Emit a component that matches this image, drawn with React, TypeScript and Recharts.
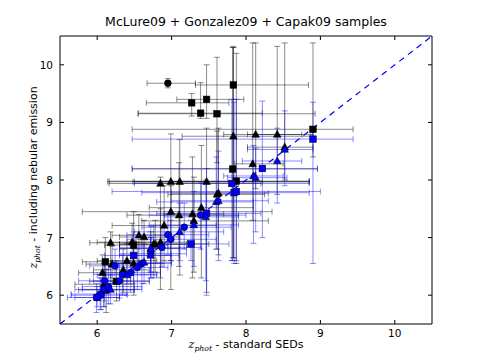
import { ErrorBar, ReferenceLine, Scatter, ScatterChart, XAxis, YAxis } from 'recharts'

// [x, y, xLow, xHigh, yLow, yHigh]
type Row = [number, number, number, number, number, number]

const X_TICKS = [6, 7, 8, 9, 10]
const Y_TICKS = [6, 7, 8, 9, 10]

const blackCircles: Row[] = [
	[6.95, 9.68, 6.67, 7.32, 9.6, 9.76],
]

const blackSquares: Row[] = [
	[7.83, 9.65, 7.32, 8.84, 6.65, 10.32],
	[7.27, 9.34, 6.66, 7.77, 9.11, 9.5],
	[7.47, 9.4, 7.07, 7.97, 9.07, 10.0],
	[7.39, 9.16, 6.55, 8.22, 9.07, 9.69],
	[7.61, 9.15, 6.55, 8.93, 8.3, 10.13],
	[8.9, 8.88, 6.47, 9.44, 8.4, 10.38],
	[7.82, 8.19, 6.47, 8.96, 6.6, 10.3],
	[7.87, 7.98, 6.16, 8.85, 6.55, 10.2],
	[6.49, 6.87, 6.1, 6.95, 6.4, 7.45],
	[6.11, 6.58, 5.8, 6.55, 6.2, 7.0],
	[6.26, 6.24, 5.9, 6.7, 5.9, 6.6],
	[6.12, 6.09, 5.75, 6.5, 5.7, 6.45],
]

const blackTriangles: Row[] = [
	[7.83, 8.76, 7.14, 8.87, 6.65, 10.3],
	[8.13, 8.79, 7.7, 8.75, 7.85, 10.38],
	[8.42, 8.79, 8.02, 8.9, 7.75, 10.32],
	[8.52, 8.57, 8.02, 8.9, 8.0, 10.38],
	[8.09, 8.28, 7.85, 8.5, 7.3, 10.38],
	[6.85, 7.94, 6.16, 8.2, 6.1, 8.05],
	[6.99, 7.97, 6.14, 8.85, 6.6, 8.8],
	[7.11, 7.97, 6.5, 8.85, 6.35, 8.7],
	[7.47, 7.97, 6.48, 8.22, 6.05, 8.9],
	[7.61, 7.75, 6.95, 8.25, 6.8, 8.85],
	[7.63, 7.77, 7.0, 8.3, 6.7, 8.9],
	[7.4, 7.52, 6.7, 8.1, 6.3, 8.6],
	[6.99, 7.45, 5.8, 8.35, 6.1, 7.9],
	[7.1, 7.39, 6.4, 7.9, 6.5, 8.3],
	[7.28, 7.41, 6.9, 7.7, 6.3, 8.4],
	[7.3, 7.29, 6.6, 8.3, 6.4, 8.05],
	[6.9, 7.21, 6.2, 7.6, 6.6, 7.9],
	[6.18, 6.91, 5.9, 6.6, 6.3, 7.1],
	[6.47, 6.92, 6.0, 6.8, 6.4, 7.25],
	[6.56, 7.04, 6.2, 7.0, 6.5, 7.4],
	[6.63, 7.01, 6.3, 7.1, 6.6, 7.3],
	[6.78, 6.88, 6.3, 7.2, 6.4, 7.3],
	[6.85, 6.92, 6.4, 7.3, 6.3, 7.5],
	[6.76, 6.89, 6.3, 7.5, 6.3, 7.2],
	[6.72, 6.81, 6.3, 7.1, 6.4, 7.1],
	[6.4, 6.6, 6.0, 6.8, 6.2, 6.9],
	[6.49, 6.55, 6.1, 6.9, 6.0, 6.95],
	[6.35, 6.44, 5.95, 6.7, 6.05, 6.8],
	[6.07, 6.39, 5.75, 6.45, 6.05, 6.7],
	[6.09, 6.19, 5.7, 6.5, 5.8, 6.55],
	[6.2, 6.54, 5.85, 6.6, 6.2, 6.85],
]

const blueSquares: Row[] = [
	[8.9, 8.71, 6.47, 9.44, 6.55, 9.35],
	[8.22, 8.2, 6.47, 8.96, 7.0, 9.37],
	[7.81, 7.94, 6.5, 8.85, 6.6, 9.4],
	[7.84, 7.78, 6.6, 8.85, 6.55, 9.35],
	[7.87, 7.8, 6.2, 9.0, 6.6, 9.4],
	[7.47, 7.42, 6.8, 8.2, 6.0, 8.2],
	[7.26, 6.89, 6.9, 7.77, 6.6, 7.3],
	[6.49, 6.69, 6.1, 7.0, 6.2, 7.1],
	[6.0, 5.96, 5.7, 6.3, 5.8, 6.15],
]

const blueTriangles: Row[] = [
	[8.52, 8.53, 8.02, 8.9, 7.9, 9.2],
	[8.42, 8.33, 7.95, 8.75, 7.6, 8.9],
	[8.1, 8.07, 7.7, 8.5, 6.9, 8.6],
	[8.13, 8.04, 7.75, 8.55, 7.1, 8.55],
	[7.6, 7.62, 6.8, 8.1, 6.8, 8.4],
	[7.63, 7.64, 7.0, 8.3, 6.6, 8.5],
	[7.46, 7.36, 6.9, 7.9, 6.25, 8.0],
	[7.3, 7.22, 6.7, 7.9, 6.5, 7.8],
	[7.11, 7.1, 6.5, 7.7, 6.6, 7.6],
	[6.72, 6.81, 6.3, 7.2, 6.3, 7.2],
	[6.72, 6.69, 6.3, 7.1, 6.3, 7.0],
	[6.63, 6.57, 6.2, 7.0, 6.2, 6.9],
	[6.18, 6.1, 5.8, 6.6, 5.85, 6.35],
	[6.4, 6.35, 6.0, 6.8, 6.0, 6.6],
]

const blueCircles: Row[] = [
	[7.39, 7.39, 6.7, 8.0, 6.8, 7.95],
	[7.17, 7.18, 6.6, 7.8, 6.8, 7.6],
	[6.95, 7.05, 6.4, 7.5, 6.7, 7.4],
	[6.99, 6.97, 6.4, 7.6, 6.6, 7.3],
	[6.87, 6.83, 6.3, 7.4, 6.5, 7.2],
	[6.72, 6.72, 6.3, 7.2, 6.4, 7.0],
	[6.24, 6.51, 5.9, 6.6, 6.2, 6.8],
	[6.34, 6.36, 5.95, 6.8, 6.0, 6.7],
	[6.45, 6.39, 6.1, 6.85, 6.05, 6.7],
	[6.54, 6.48, 6.15, 6.95, 6.1, 6.8],
	[6.6, 6.55, 6.2, 7.0, 6.2, 6.85],
	[6.09, 6.1, 5.7, 6.5, 5.8, 6.4],
	[6.04, 6.02, 5.65, 6.4, 5.75, 6.3],
	[5.99, 5.96, 5.6, 6.3, 5.7, 6.2],
	[6.15, 6.15, 5.8, 6.6, 5.85, 6.45],
	[6.3, 6.25, 5.95, 6.7, 5.95, 6.55],
	[6.1, 6.25, 5.75, 6.45, 5.9, 6.55],
	[6.05, 6.0, 5.65, 6.4, 5.75, 6.3],
]

const PLOT_W = 372
const PLOT_H = 288
const FONT = '"DejaVu Sans", sans-serif'

const toPoints = (rows: Row[]) =>
	rows.map(([x, y, x0, x1, y0, y1]) => ({
		x,
		y,
		ex: [x - x0, x1 - x],
		ey: [y - y0, y1 - y],
	}))

const SquareMark = (p: any) => (
	<rect x={p.cx - 3.3} y={p.cy - 3.3} width={6.6} height={6.6} fill={p.fill} stroke="#000" strokeWidth={0.5} />
)
const CircleMark = (p: any) => <circle cx={p.cx} cy={p.cy} r={3.4} fill={p.fill} stroke="#000" strokeWidth={0.5} />
const TriangleMark = (p: any) => (
	<polygon
		points={`${p.cx},${p.cy - 4.2} ${p.cx - 3.8},${p.cy + 2.8} ${p.cx + 3.8},${p.cy + 2.8}`}
		fill={p.fill}
		stroke="#000"
		strokeWidth={0.5}
	/>
)

const XTick = ({ x, y, payload }: any) => (
	<g>
		<line x1={x} y1={y} x2={x} y2={y - 4} stroke="#000" />
		<line x1={x} y1={y - PLOT_H} x2={x} y2={y - PLOT_H + 4} stroke="#000" />
		<text x={x} y={y + 13} textAnchor="middle" fontSize={10.5} fontFamily={FONT} fill="#000">
			{payload.value}
		</text>
	</g>
)

const YTick = ({ x, y, payload }: any) => (
	<g>
		<line x1={x} y1={y} x2={x + 4} y2={y} stroke="#000" />
		<line x1={x + PLOT_W} y1={y} x2={x + PLOT_W - 4} y2={y} stroke="#000" />
		<text x={x - 7} y={y + 4} textAnchor="end" fontSize={10.5} fontFamily={FONT} fill="#000">
			{payload.value}
		</text>
	</g>
)

const series = [
	{ name: 'blackCircles', rows: blackCircles, fill: '#000', err: 'rgba(0,0,0,0.45)', shape: CircleMark },
	{ name: 'blackSquares', rows: blackSquares, fill: '#000', err: 'rgba(0,0,0,0.45)', shape: SquareMark },
	{ name: 'blackTriangles', rows: blackTriangles, fill: '#000', err: 'rgba(0,0,0,0.45)', shape: TriangleMark },
	{ name: 'blueCircles', rows: blueCircles, fill: '#0000ff', err: 'rgba(0,0,255,0.45)', shape: CircleMark },
	{ name: 'blueSquares', rows: blueSquares, fill: '#0000ff', err: 'rgba(0,0,255,0.45)', shape: SquareMark },
	{ name: 'blueTriangles', rows: blueTriangles, fill: '#0000ff', err: 'rgba(0,0,255,0.45)', shape: TriangleMark },
]

const Zphot = () => (
	<span style={{ fontFamily: '"DejaVu Serif", serif', fontStyle: 'italic' }}>
		z<sub style={{ fontSize: '0.7em', lineHeight: 0 }}>phot</sub>
	</span>
)

export default function App() {
	return (
		<div style={{ position: 'absolute', left: 0, top: 0, width: 480, height: 360, background: '#fff', fontFamily: FONT }}>
			<ScatterChart width={480} height={360} margin={{ top: 36, right: 48, bottom: 0, left: 0 }}>
				<XAxis
					type="number"
					dataKey="x"
					domain={[5.5, 10.5]}
					ticks={X_TICKS}
					allowDataOverflow
					height={36}
					tickSize={0}
					tickMargin={0}
					tick={XTick}
					axisLine={{ stroke: '#000' }}
				/>
				<YAxis
					type="number"
					dataKey="y"
					domain={[5.5, 10.5]}
					ticks={Y_TICKS}
					allowDataOverflow
					width={60}
					tickSize={0}
					tickMargin={0}
					tick={YTick}
					axisLine={{ stroke: '#000' }}
				/>
				<ReferenceLine y={10.5} stroke="#000" />
				<ReferenceLine x={10.5} stroke="#000" />
				{series.map((s) => (
					<Scatter
						key={s.name}
						name={s.name}
						data={toPoints(s.rows)}
						fill={s.fill}
						shape={s.shape}
						isAnimationActive={false}
					>
						<ErrorBar dataKey="ex" direction="x" width={3} stroke={s.err} strokeWidth={1} />
						<ErrorBar dataKey="ey" direction="y" width={3} stroke={s.err} strokeWidth={1} />
					</Scatter>
				))}
				<ReferenceLine
					segment={[
						{ x: 5.5, y: 5.5 },
						{ x: 10.5, y: 10.5 },
					]}
					stroke="#0000ff"
					strokeWidth={1.2}
					strokeDasharray="6 5"
				/>
			</ScatterChart>
			<div style={{ position: 'absolute', left: 60, width: PLOT_W, top: 16, textAlign: 'center', fontSize: 12.5, lineHeight: 1 }}>
				McLure09 + Gonzalez09 + Capak09 samples
			</div>
			<div style={{ position: 'absolute', left: 60, width: PLOT_W, top: 339, textAlign: 'center', fontSize: 11, lineHeight: 1 }}>
				<Zphot /> - standard SEDs
			</div>
			<div
				style={{
					position: 'absolute',
					left: 33,
					top: 178,
					width: 260,
					marginLeft: -130,
					marginTop: -6,
					textAlign: 'center',
					fontSize: 11,
					lineHeight: 1,
					transform: 'rotate(-90deg)',
					whiteSpace: 'nowrap',
				}}
			>
				<Zphot /> - including nebular emission
			</div>
		</div>
	)
}
